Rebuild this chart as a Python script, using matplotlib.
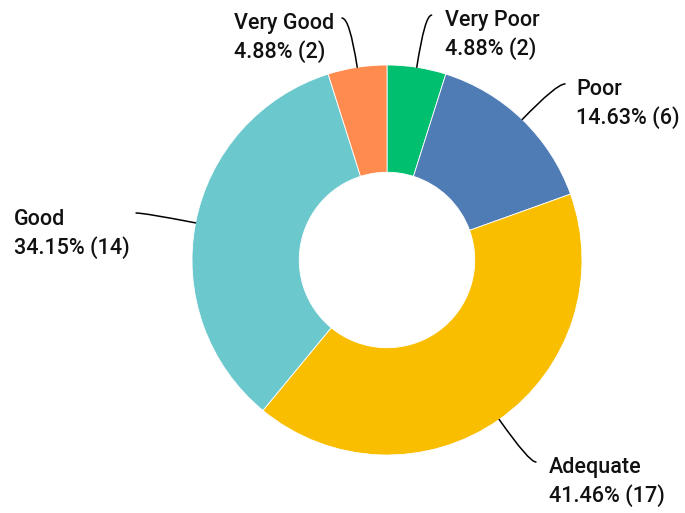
import numpy as np
import matplotlib
matplotlib.use('Agg')
import matplotlib.pyplot as plt

plt.rcParams['font.family'] = ['Roboto', 'DejaVu Sans']

categories = ['Very Poor', 'Poor', 'Adequate', 'Good', 'Very Good']
counts = [2, 6, 17, 14, 2]
percent_labels = ['4.88%', '14.63%', '41.46%', '34.15%', '4.88%']
colors = ['#00bf6f', '#507cb6', '#f9be00', '#6bc8cd', '#ff8b4f']

# label placement in pie-radius units: (text x, baseline y, leader end x, leader end y)
label_layout = {
    'Very Poor': (0.297, 1.200, 0.229, 1.256),
    'Poor': (0.969, 0.846, 0.913, 0.903),
    'Adequate': (0.831, -1.092, 0.764, -1.036),
    'Good': (-1.913, 0.179, -1.287, 0.241),
    'Very Good': (-0.785, 1.185, -0.231, 1.241),
}

R = 195.0  # outer radius in pixels
fig = plt.figure(figsize=(6.85, 5.13), dpi=100)
ax = fig.add_axes([0, 0, 1, 1])

wedges, _ = ax.pie(counts, colors=colors, startangle=90, counterclock=False, radius=1,
                   wedgeprops=dict(width=0.55, edgecolor='white', linewidth=0.6))

ax.set_xlim(-387 / R, (685 - 387) / R)
ax.set_ylim(-(513 - 260) / R, 260 / R)
ax.set_aspect('equal')
ax.axis('off')

line_gap = 29 / R
for w, cat, n, pct in zip(wedges, categories, counts, percent_labels):
    mid = (w.theta1 + w.theta2) / 2
    start = (np.cos(np.radians(mid)), np.sin(np.radians(mid)))
    tx, ty, ex, ey = label_layout[cat]
    ax.annotate('', xy=start, xytext=(ex, ey),
                arrowprops=dict(arrowstyle='-', color='black', lw=1.1,
                                shrinkA=0, shrinkB=0,
                                connectionstyle=f'angle3,angleA=0,angleB={mid}'))
    ax.text(tx, ty, cat, ha='left', va='baseline', fontsize=15.5, fontweight='medium', color='#111111')
    ax.text(tx, ty - line_gap, f'{pct} ({n})', ha='left', va='baseline', fontsize=15.5,
            fontweight='medium', color='#111111')

fig.savefig('out.png', dpi=100)
